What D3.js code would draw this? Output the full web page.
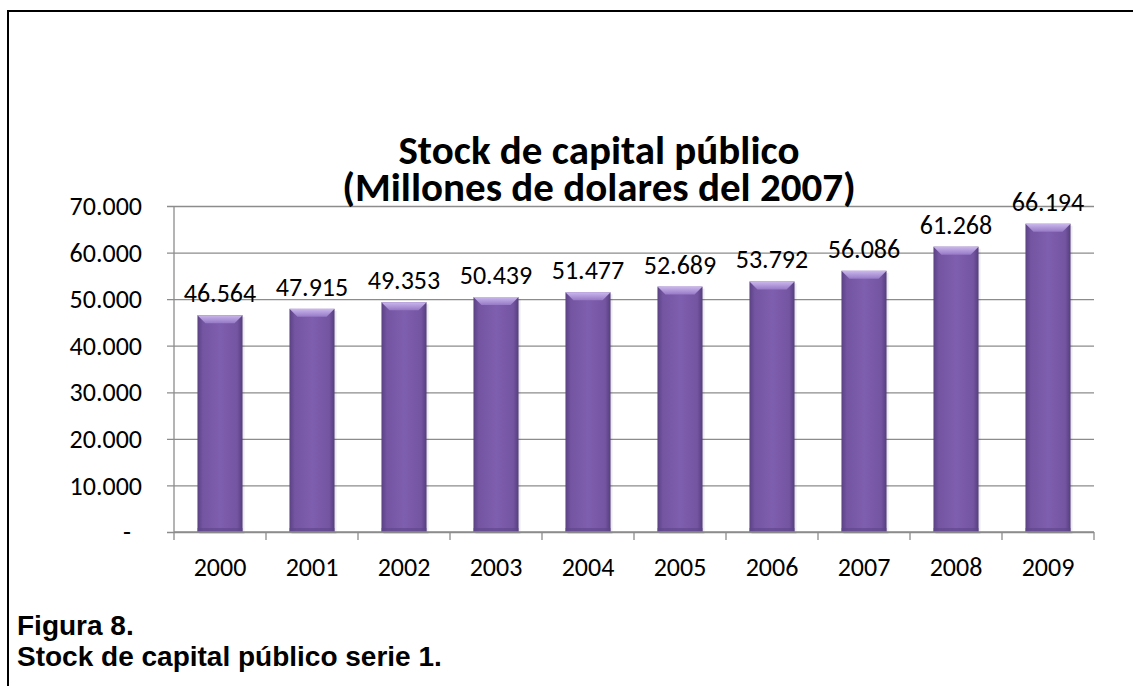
<!DOCTYPE html>
<html>
<head>
<meta charset="utf-8">
<script src="https://cdn.jsdelivr.net/npm/d3@7"></script>
<style>
  body { margin: 0; background: #fff; }
  svg text { font-family: Calibri, Carlito, Lato, sans-serif; fill: #000; }
</style>
</head>
<body>
<div id="chart-container"></div>
<script>
// Data
const years = ["2000", "2001", "2002", "2003", "2004", "2005", "2006", "2007", "2008", "2009"];
const values = [46564, 47915, 49353, 50439, 51477, 52689, 53792, 56086, 61268, 66194];
const labels = ["46.564", "47.915", "49.353", "50.439", "51.477", "52.689", "53.792", "56.086", "61.268", "66.194"];
const yTicks = [0, 10000, 20000, 30000, 40000, 50000, 60000, 70000];
const yTickLabels = ["-", "10.000", "20.000", "30.000", "40.000", "50.000", "60.000", "70.000"];

const W = 1133, H = 686;
const plot = { left: 174, right: 1094, top: 206, bottom: 532 };

const svg = d3.select("#chart-container")
  .append("svg")
  .attr("width", W)
  .attr("height", H);

// Frame (top and left lines of the figure box)
svg.append("line").attr("x1", 8).attr("x2", W).attr("y1", 11).attr("y2", 11)
  .attr("stroke", "#000").attr("stroke-width", 2);
svg.append("line").attr("x1", 8).attr("x2", 8).attr("y1", 10).attr("y2", H)
  .attr("stroke", "#000").attr("stroke-width", 2);

// Gradients for the bevelled bars
const defs = svg.append("defs");
const body = defs.append("linearGradient").attr("id", "barBody")
  .attr("x1", 0).attr("x2", 1).attr("y1", 0).attr("y2", 0);
body.append("stop").attr("offset", "0%").attr("stop-color", "#5a4282");
body.append("stop").attr("offset", "12%").attr("stop-color", "#7455a2");
body.append("stop").attr("offset", "50%").attr("stop-color", "#7e5eae");
body.append("stop").attr("offset", "88%").attr("stop-color", "#7455a2");
body.append("stop").attr("offset", "100%").attr("stop-color", "#553e7c");

const bevel = defs.append("linearGradient").attr("id", "barTop")
  .attr("x1", 0).attr("x2", 0).attr("y1", 0).attr("y2", 1);
bevel.append("stop").attr("offset", "0%").attr("stop-color", "#cbb8ec");
bevel.append("stop").attr("offset", "100%").attr("stop-color", "#9679c6");

// Scales
const x = d3.scaleBand()
  .domain(years)
  .range([plot.left, plot.right])
  .paddingInner(0.51)
  .paddingOuter(0.255);

const y = d3.scaleLinear()
  .domain([0, 70000])
  .range([plot.bottom, plot.top]);

// Horizontal gridlines with left tick stubs
svg.append("g")
  .attr("transform", `translate(${plot.left},0)`)
  .call(d3.axisLeft(y).tickValues(yTicks).tickSize(-(plot.right - plot.left)).tickFormat(""))
  .call(g => g.select(".domain").remove())
  .call(g => g.selectAll(".tick line").attr("stroke", "#8c8c8c").attr("stroke-width", 1.3).attr("x1", -7));

// Y axis labels
svg.append("g")
  .selectAll("text")
  .data(yTicks)
  .enter()
  .append("text")
  .attr("x", (d, i) => i === 0 ? 131 : 142)
  .attr("y", d => y(d))
  .attr("dy", "0.35em")
  .attr("text-anchor", "end")
  .style("font-size", "26px")
  .text((d, i) => yTickLabels[i]);

// Y axis line
svg.append("line")
  .attr("x1", plot.left).attr("x2", plot.left)
  .attr("y1", y(70000)).attr("y2", y(0))
  .attr("stroke", "#8c8c8c").attr("stroke-width", 1.3);

// Bars
const bars = svg.append("g").selectAll("g")
  .data(years.map((yr, i) => ({ year: yr, value: values[i], label: labels[i] })))
  .enter()
  .append("g");

bars.append("rect")
  .attr("x", d => x(d.year) + 2)
  .attr("y", d => y(d.value) + 2)
  .attr("width", x.bandwidth())
  .attr("height", d => y(0) - y(d.value))
  .attr("fill", "rgba(0,0,0,0.08)");

bars.append("rect")
  .attr("x", d => x(d.year))
  .attr("y", d => y(d.value))
  .attr("width", x.bandwidth())
  .attr("height", d => y(0) - y(d.value))
  .attr("fill", "url(#barBody)");

// Top bevel
bars.append("polygon")
  .attr("points", d => {
    const x0 = x(d.year), x1 = x0 + x.bandwidth(), t = y(d.value), b = 8;
    return `${x0},${t} ${x1},${t} ${x1 - b},${t + b} ${x0 + b},${t + b}`;
  })
  .attr("fill", "url(#barTop)");

// Bottom darker edge
bars.append("rect")
  .attr("x", d => x(d.year))
  .attr("y", y(0) - 4)
  .attr("width", x.bandwidth())
  .attr("height", 4)
  .attr("fill", "#5e4588")
  .attr("opacity", 0.6);

// Data labels
bars.append("text")
  .attr("x", d => x(d.year) + x.bandwidth() / 2)
  .attr("y", d => y(d.value) - 13)
  .attr("text-anchor", "middle")
  .style("font-size", "26px")
  .text(d => d.label);

// X axis with ticks between categories
svg.append("line")
  .attr("x1", plot.left).attr("x2", plot.right)
  .attr("y1", y(0)).attr("y2", y(0))
  .attr("stroke", "#8c8c8c").attr("stroke-width", 1.3);

const step = x.step();
svg.append("g")
  .selectAll("line")
  .data(d3.range(years.length + 1))
  .enter()
  .append("line")
  .attr("x1", i => i < years.length ? x(years[i]) - step * x.paddingOuter() : plot.right)
  .attr("x2", i => i < years.length ? x(years[i]) - step * x.paddingOuter() : plot.right)
  .attr("y1", y(0))
  .attr("y2", y(0) + 8)
  .attr("stroke", "#8c8c8c").attr("stroke-width", 1.3);

svg.append("g")
  .selectAll("text")
  .data(years)
  .enter()
  .append("text")
  .attr("x", d => x(d) + x.bandwidth() / 2)
  .attr("y", 576)
  .attr("text-anchor", "middle")
  .style("font-size", "26px")
  .text(d => d);

// Title
const title = svg.append("text")
  .attr("text-anchor", "middle")
  .style("font-size", "41px")
  .style("font-weight", "bold");
title.append("tspan").attr("x", 599).attr("y", 164).text("Stock de capital público");
title.append("tspan").attr("x", 599).attr("y", 201).text("(Millones de dolares del 2007)");

// Caption below the chart
const caption = svg.append("text")
  .style("font-family", "Arial, 'Liberation Sans', sans-serif")
  .style("font-size", "28px")
  .style("font-weight", "bold");
caption.append("tspan").attr("x", 17).attr("y", 635).text("Figura 8.");
caption.append("tspan").attr("x", 17).attr("y", 666).text("Stock de capital público serie 1.");
</script>
</body>
</html>
